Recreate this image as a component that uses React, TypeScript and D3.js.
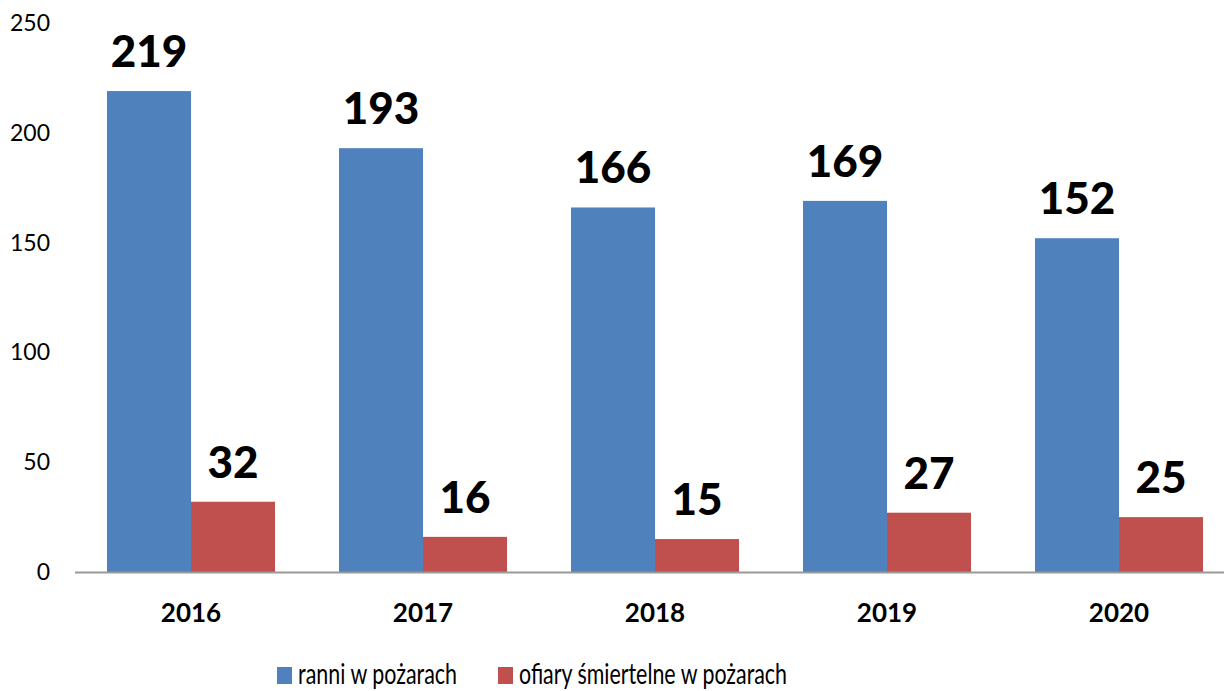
import { useRef, useEffect } from 'react';
import * as d3 from 'd3';

const YEARS = ['2016', '2017', '2018', '2019', '2020'];
const INJURED = [219, 193, 166, 169, 152];
const DEATHS = [32, 16, 15, 27, 25];
const Y_TICKS = [0, 50, 100, 150, 200, 250];
const SERIES_NAMES = ['ranni w pożarach', 'ofiary śmiertelne w pożarach'];
const COLORS = ['#4F81BD', '#C0504D'];

const WIDTH = 1224;
const HEIGHT = 691;
const FONT = 'Lato, "Open Sans", sans-serif';

function drawChart(svgEl: SVGSVGElement) {
  const svg = d3.select(svgEl);
  svg.selectAll('*').remove();

  const x0 = d3.scaleBand<string>().domain(YEARS).range([75, 1235]).paddingInner(64 / 232).paddingOuter(32 / 232);
  const x1 = d3.scaleBand<number>().domain([0, 1]).range([0, x0.bandwidth()]);
  const y = d3.scaleLinear().domain([0, 250]).range([572, 23]);

  // y tick labels
  svg.append('g')
    .selectAll('text')
    .data(Y_TICKS)
    .join('text')
    .attr('x', 50)
    .attr('y', d => y(d) + 8)
    .attr('text-anchor', 'end')
    .attr('font-family', FONT)
    .attr('font-size', 23)
    .attr('fill', '#000')
    .text(d => d);

  const series = [INJURED, DEATHS];
  const groups = svg.append('g')
    .selectAll('g')
    .data(YEARS)
    .join('g')
    .attr('transform', d => `translate(${x0(d)},0)`);

  groups.selectAll('rect')
    .data((_, i) => series.map((s, k) => ({ k, v: s[i] })))
    .join('rect')
    .attr('x', d => x1(d.k)!)
    .attr('y', d => y(d.v))
    .attr('width', x1.bandwidth())
    .attr('height', d => y(0) - y(d.v))
    .attr('fill', d => COLORS[d.k]);

  groups.selectAll('text')
    .data((_, i) => series.map((s, k) => ({ k, v: s[i] })))
    .join('text')
    .attr('x', d => x1(d.k)! + x1.bandwidth() / 2)
    .attr('y', d => y(d.v) - 24)
    .attr('text-anchor', 'middle')
    .attr('font-family', FONT)
    .attr('font-weight', 900)
    .attr('font-size', 44)
    .attr('fill', '#000')
    .text(d => d.v);

  // baseline
  svg.append('line')
    .attr('x1', 75)
    .attr('x2', 1235)
    .attr('y1', y(0) + 0.5)
    .attr('y2', y(0) + 0.5)
    .attr('stroke', '#999')
    .attr('stroke-width', 2);

  // year labels
  svg.append('g')
    .selectAll('text')
    .data(YEARS)
    .join('text')
    .attr('x', d => x0(d)! + x0.bandwidth() / 2)
    .attr('y', 622)
    .attr('text-anchor', 'middle')
    .attr('font-family', FONT)
    .attr('font-weight', 'bold')
    .attr('font-size', 26)
    .attr('fill', '#000')
    .text(d => d);

  // legend
  const legendX = [277, 498];
  const legendLen = [159, 268];
  const legend = svg.append('g')
    .selectAll('g')
    .data(SERIES_NAMES)
    .join('g')
    .attr('transform', (_, i) => `translate(${legendX[i]},0)`);
  legend.append('rect')
    .attr('x', 0)
    .attr('y', 667)
    .attr('width', 15)
    .attr('height', 17)
    .attr('fill', (_, i) => COLORS[i]);
  legend.append('text')
    .attr('x', 21)
    .attr('y', 684)
    .attr('font-family', FONT)
    .attr('font-size', 29)
    .attr('fill', '#000')
    .attr('textLength', (_, i) => legendLen[i])
    .attr('lengthAdjust', 'spacingAndGlyphs')
    .text(d => d);
}

export default function App() {
  const svgRef = useRef<SVGSVGElement>(null);
  useEffect(() => {
    if (svgRef.current) drawChart(svgRef.current);
  }, []);
  return (
    <svg
      ref={svgRef}
      width={WIDTH}
      height={HEIGHT}
      style={{ position: 'absolute', left: 0, top: 0, background: '#fff' }}
    />
  );
}
